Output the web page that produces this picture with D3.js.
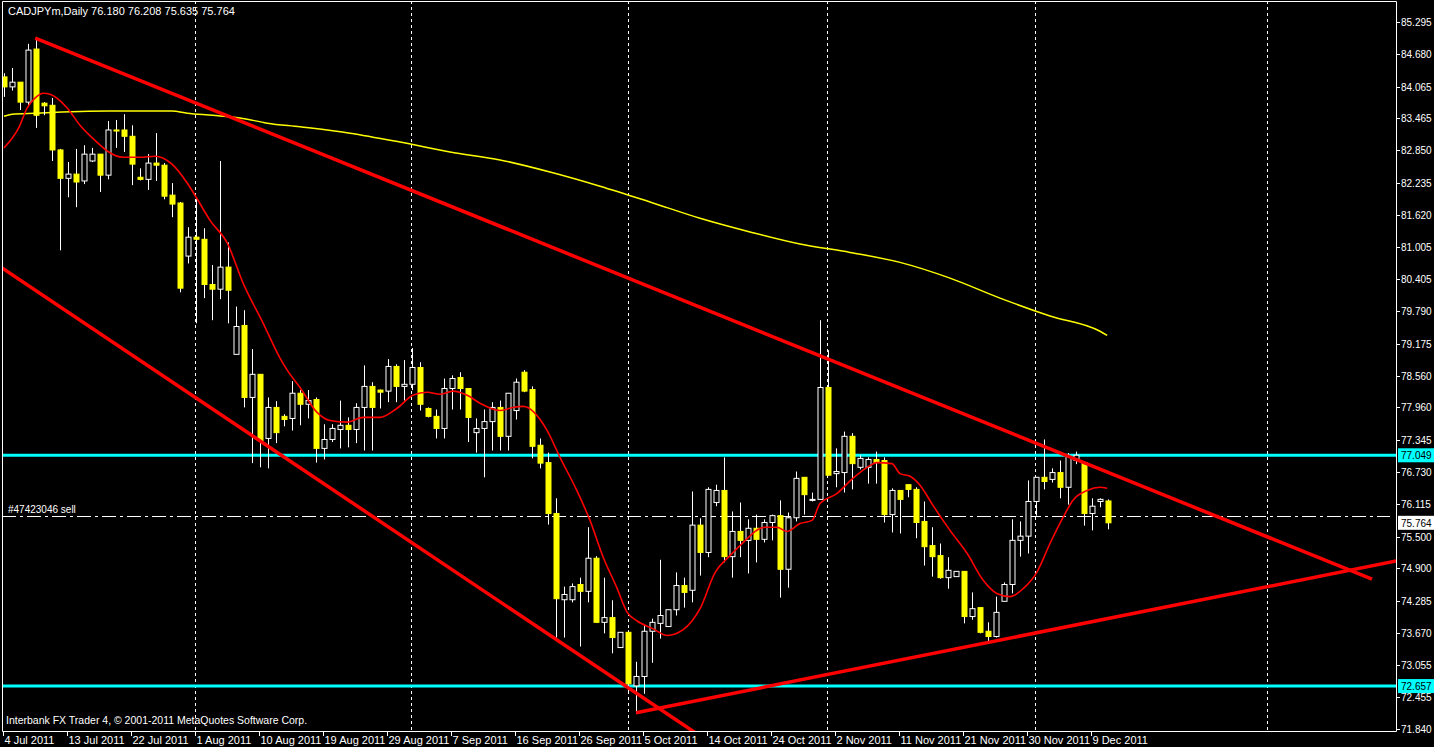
<!DOCTYPE html>
<html>
<head>
<meta charset="utf-8">
<script src="https://cdn.jsdelivr.net/npm/d3@7"></script>
<style>
  html, body { margin: 0; padding: 0; background: #000; overflow: hidden; }
  text { font-family: "Liberation Sans", Arial, sans-serif; font-size: 11px; fill: #fff; }
</style>
</head>
<body>
<div id="chart"></div>
<script>
// daily candles, bar index 0 = 4 Jul 2011
const opens = [84.25,84.06,84.15,83.77,84.78,83.75,83.71,82.86,82.32,82.40,82.27,82.65,82.78,82.38,83.24,83.24,83.12,82.34,82.30,82.61,
  82.57,82.00,81.85,80.84,81.20,81.16,80.30,80.21,80.63,78.97,79.52,78.15,78.59,77.37,77.96,77.79,77.75,78.23,78.02,78.11,
  77.18,77.35,77.54,77.62,77.54,77.96,78.36,78.29,78.27,78.74,78.36,78.40,78.72,77.94,77.79,77.56,78.32,78.53,78.32,77.48,
  77.56,77.69,77.96,77.41,77.90,78.63,78.30,77.24,76.91,75.94,74.30,74.30,74.59,74.46,75.09,73.87,73.96,73.39,73.68,72.66,
  72.84,73.70,73.85,73.79,74.11,74.57,74.48,75.72,75.20,76.15,76.38,75.12,75.60,75.43,75.66,75.45,75.77,75.90,74.88,75.86,
  76.63,76.19,76.21,78.34,76.70,76.72,77.41,76.82,76.82,76.97,76.95,75.92,76.38,76.49,76.40,75.79,75.33,75.14,74.72,74.74,
  74.84,73.98,74.15,73.70,73.60,74.27,74.59,75.43,75.51,76.17,76.63,76.59,76.72,76.44,76.95,76.91,75.94,76.17,76.18];
const highs = [84.32,84.42,84.15,84.88,85.01,83.77,83.85,82.88,82.63,82.88,82.95,82.90,82.78,83.41,83.43,83.54,83.33,82.51,82.78,83.18,
  82.61,82.23,81.87,81.39,81.94,81.37,80.67,82.65,81.10,79.88,79.81,79.07,78.59,78.15,78.08,77.83,78.46,78.29,78.29,78.15,
  77.64,77.64,78.09,77.77,78.04,78.76,78.44,78.30,78.88,78.78,78.86,79.09,78.82,77.96,77.92,78.51,78.57,78.63,78.32,77.75,
  77.92,78.06,78.09,78.23,78.51,78.67,78.36,77.37,77.10,76.23,74.55,74.61,74.72,75.68,75.13,74.72,74.29,73.68,73.72,73.12,
  73.81,73.94,75.06,74.11,74.82,74.72,76.36,75.85,76.44,76.49,77.01,75.98,76.15,75.83,75.92,75.83,75.92,76.19,75.96,76.74,
  76.63,76.34,79.62,79.05,77.18,77.50,77.47,77.05,77.01,77.12,77.01,76.42,76.38,76.49,76.44,76.17,75.68,75.37,75.11,74.84,
  74.84,74.44,74.15,73.87,74.36,74.63,75.83,75.79,76.57,76.63,77.35,76.80,76.95,77.09,77.12,76.91,76.23,76.23,76.21];
const lows = [83.87,83.99,83.62,83.68,83.28,83.52,82.65,80.95,81.96,81.77,82.21,82.63,82.06,82.30,82.90,82.82,82.19,82.28,82.10,82.27,
  81.92,81.58,80.15,80.70,79.56,80.04,79.62,80.02,79.56,78.97,77.96,76.90,76.82,76.80,77.28,77.60,77.52,77.62,77.75,76.91,
  76.97,77.30,77.18,77.20,77.28,77.14,77.14,77.94,78.06,78.06,78.09,78.29,77.90,77.77,77.37,77.37,77.92,77.92,77.30,77.10,
  76.63,77.14,77.14,77.14,77.73,78.25,76.99,76.80,75.73,73.58,73.58,74.25,73.41,74.25,73.87,73.66,73.28,73.39,72.51,72.13,
  72.51,73.10,73.56,73.79,74.00,74.15,74.25,74.76,75.11,76.08,75.01,74.72,75.11,74.80,75.01,75.39,75.43,74.34,74.53,75.79,
  75.92,76.17,76.21,76.67,76.44,76.34,76.40,76.78,76.51,76.51,75.77,75.58,75.56,76.25,75.47,74.95,74.74,74.70,74.51,74.74,
  73.85,73.92,73.66,73.47,73.58,74.27,74.42,75.12,75.18,75.90,76.40,76.53,76.23,76.11,76.88,75.71,75.62,76.06,75.64];
const closes = [84.06,84.15,83.77,84.76,83.52,83.70,82.86,82.32,82.40,82.25,82.78,82.78,82.38,83.24,83.22,83.12,82.59,82.30,82.61,82.57,
  81.98,81.83,80.23,81.20,81.16,80.30,80.21,80.63,80.19,79.50,78.15,78.59,77.33,77.96,77.48,77.73,78.23,78.02,78.09,77.18,
  77.35,77.56,77.62,77.54,77.96,78.36,77.96,78.25,78.74,78.36,78.40,78.72,78.02,77.79,77.56,78.32,78.51,78.32,77.77,77.56,
  77.69,77.96,77.41,78.23,78.44,78.27,77.22,76.90,75.94,74.32,74.40,74.55,74.46,75.09,73.87,73.96,73.58,73.68,72.70,72.84,
  73.70,73.87,74.00,74.11,74.57,74.44,75.72,75.20,76.40,76.38,75.12,75.60,75.43,75.66,75.45,75.77,75.90,74.88,75.86,76.61,
  76.30,76.21,78.34,76.67,76.74,77.41,76.89,76.99,76.97,76.91,75.92,76.38,76.21,76.40,75.77,75.31,75.12,74.72,74.86,74.84,
  73.98,74.13,73.68,73.60,74.06,74.59,75.43,75.51,76.17,76.63,76.55,76.72,76.44,77.03,77.05,75.94,76.08,76.21,75.764];

// red short moving average: [bar index, price]
const fastMA = [[0,82.90],[1.9,83.30],[2.9,83.66],[3.9,83.85],[4.9,83.94],[5.75,83.92],[7.9,83.66],[9.5,83.33],[11.6,83.01],
  [12.9,82.84],[14.9,82.72],[17,82.72],[18.9,82.74],[21,82.59],[22.9,82.23],[24.1,81.94],[25.75,81.52],[27.9,81.09],
  [29.9,80.32],[32.4,79.56],[34.5,78.90],[35.4,78.67],[37,78.34],[39.1,77.87],[40.75,77.71],[42.9,77.68],[44.9,77.77],
  [47,77.77],[49.1,77.94],[51.1,78.19],[52.9,78.25],[54.5,78.21],[56.1,78.27],[57.9,78.19],[59.5,78.04],[62,77.90],
  [63.6,77.96],[64.9,77.98],[67.9,77.52],[69.5,77.01],[71.6,76.38],[73.25,75.81],[74.9,75.11],[76.6,74.53],[77.9,74.06],
  [79.1,73.90],[81.1,73.75],[82.9,73.62],[84.9,73.73],[87,74.13],[88.9,74.82],[90.75,75.14],[92,75.33],[95.1,75.68],
  [96.6,75.68],[97.9,75.60],[99.5,75.75],[101,75.81],[102,76.13],[104.1,76.32],[106.1,76.61],[107.9,76.82],[109.1,76.91],
  [111,76.89],[112,76.70],[113.25,76.65],[114.5,76.48],[116.1,76.10],[118.25,75.62],[120.4,75.18],[122.4,74.67],
  [124.1,74.42],[125.75,74.36],[127.4,74.51],[129.1,74.82],[130.75,75.37],[132.4,75.87],[133.6,76.19],[135.4,76.38],
  [137,76.44],[137.9,76.42]];

// yellow long moving average
const slowMA = [[0,83.50],[1,83.54],[3.9,83.56],[13,83.60],[21,83.60],[22.9,83.56],[26.1,83.52],[29.5,83.47],[32.9,83.37],
  [37,83.30],[43.25,83.18],[49.5,83.01],[55.75,82.82],[62,82.67],[68.25,82.44],[74.5,82.17],[80.75,81.87],[87,81.56],
  [93.25,81.30],[99.5,81.07],[105.75,80.91],[112,80.72],[118.25,80.42],[124.5,80.04],[130.75,79.70],[137,79.41],[137.9,79.33]];

// hand-drawn trend lines: [[idx, price], [idx, price]]
const trendLines = [
  [[3.9,84.99],[171,74.69]],
  [[-0.2,80.61],[86.6,71.75]],
  [[79,72.15],[178.75,75.18]]
];
const levels = [77.049, 72.657];
const orderPrice = 75.89;
const lastPrice = 75.764;

const priceTicks = [85.295,84.680,84.065,83.465,82.850,82.235,81.620,81.005,80.405,79.790,79.175,78.560,77.960,77.345,
  76.730,76.115,75.500,74.900,74.285,73.670,73.055,72.455,71.840];
const dateLabels = ['4 Jul 2011','13 Jul 2011','22 Jul 2011','1 Aug 2011','10 Aug 2011','19 Aug 2011','29 Aug 2011',
  '7 Sep 2011','16 Sep 2011','26 Sep 2011','5 Oct 2011','14 Oct 2011','24 Oct 2011','2 Nov 2011','11 Nov 2011',
  '21 Nov 2011','30 Nov 2011','9 Dec 2011'];
const gridBars = [23.9, 50.9, 78, 102.9, 128.9, 157.9];

const W = 1434, H = 747;
const plotR = 1396, plotB = 731;

const x = d3.scaleLinear().domain([0, 1]).range([4, 12]);
const y = d3.scaleLinear().domain([85.295, 71.840]).range([22, 729]);

const svg = d3.select('#chart').append('svg')
  .attr('width', W).attr('height', H)
  .style('background', '#000');

svg.append('defs').append('clipPath').attr('id', 'plot')
  .append('rect').attr('x', 2).attr('y', 1).attr('width', plotR - 2).attr('height', plotB - 1);

const plot = svg.append('g').attr('clip-path', 'url(#plot)');

// grid
plot.selectAll('.vgrid').data(gridBars).enter().append('line')
  .attr('x1', d => Math.round(x(d)) + 0.5).attr('x2', d => Math.round(x(d)) + 0.5)
  .attr('y1', 1).attr('y2', plotB)
  .attr('stroke', '#fff').attr('stroke-dasharray', '3,3');

// long MA
const line = d3.line().x(d => x(d[0])).y(d => y(d[1])).curve(d3.curveMonotoneX);
plot.append('path').datum(slowMA).attr('d', line)
  .attr('fill', 'none').attr('stroke', '#ffff00').attr('stroke-width', 1.5);

// horizontal levels
plot.selectAll('.lvl').data(levels).enter().append('line')
  .attr('x1', 2).attr('x2', plotR).attr('y1', d => y(d)).attr('y2', d => y(d))
  .attr('stroke', '#00ffff').attr('stroke-width', 3);

// order line
plot.append('line')
  .attr('x1', 2).attr('x2', 1390).attr('y1', Math.round(y(orderPrice)) + 0.5).attr('y2', Math.round(y(orderPrice)) + 0.5)
  .attr('stroke', '#fff').attr('stroke-dasharray', '14,4,3,4');
svg.append('text').attr('x', 8).attr('y', Math.round(y(orderPrice)) - 3)
  .style('font-size', '10px').text('#47423046 sell');

// candles
const idx = d3.range(closes.length);
const bw = 5;
plot.selectAll('.wick').data(idx).enter().append('line')
  .attr('x1', i => Math.round(x(i)) + 0.5).attr('x2', i => Math.round(x(i)) + 0.5)
  .attr('y1', i => y(highs[i])).attr('y2', i => y(lows[i]))
  .attr('stroke', '#fff');
plot.selectAll('.body').data(idx).enter().append('rect')
  .attr('x', i => Math.round(x(i)) - 2)
  .attr('y', i => y(Math.max(opens[i], closes[i])))
  .attr('width', bw)
  .attr('height', i => Math.max(1, Math.abs(y(opens[i]) - y(closes[i]))))
  .attr('fill', i => closes[i] < opens[i] ? '#ffff00' : '#000')
  .attr('stroke', i => closes[i] < opens[i] ? '#ffff00' : '#fff');

// short MA
plot.append('path').datum(fastMA).attr('d', line)
  .attr('fill', 'none').attr('stroke', '#ff0000').attr('stroke-width', 1.6);

// trend lines
plot.selectAll('.trend').data(trendLines).enter().append('line')
  .attr('x1', d => x(d[0][0])).attr('y1', d => y(d[0][1]))
  .attr('x2', d => x(d[1][0])).attr('y2', d => y(d[1][1]))
  .attr('stroke', '#ff0000').attr('stroke-width', 3.5);

// frame
svg.append('path')
  .attr('d', `M2.5,${plotB + 0.5}V1.5H${plotR + 0.5}V${plotB + 0.5}H2.5`)
  .attr('fill', 'none').attr('stroke', '#fff');

// price axis
const ax = svg.append('g').style('font-size', '10px');
ax.selectAll('.pt').data(priceTicks).enter().append('line')
  .attr('x1', plotR).attr('x2', plotR + 4)
  .attr('y1', d => Math.round(y(d)) + 0.5).attr('y2', d => Math.round(y(d)) + 0.5)
  .attr('stroke', '#fff');
ax.selectAll('.pl').data(priceTicks).enter().append('text')
  .attr('x', 1401).attr('y', d => y(d) + 4).style('font-size', '10px').text(d => d.toFixed(3));

// level / price badges
const badges = levels.map(v => ({ v, bg: '#00ffff' })).concat([{ v: lastPrice, bg: '#fff' }]);
const bg = ax.selectAll('.badge').data(badges).enter().append('g');
bg.append('rect').attr('x', 1398).attr('y', d => y(d.v) - 7).attr('width', 36).attr('height', 14)
  .attr('fill', d => d.bg);
bg.append('text').attr('x', 1401).attr('y', d => y(d.v) + 4).style('fill', '#000').style('font-size', '10px')
  .text(d => d.v.toFixed(3));

// time axis
dateLabels.forEach((d, k) => {
  const xx = Math.round(x(k * 8) - 1) + 0.5;
  svg.append('line').attr('x1', xx).attr('x2', xx).attr('y1', plotB).attr('y2', plotB + 5).attr('stroke', '#fff');
  svg.append('text').attr('x', xx + 1).attr('y', 744).text(d);
});

svg.append('text').attr('x', 8).attr('y', 15).text('CADJPYm,Daily  76.180 76.208 75.635 75.764');
svg.append('text').attr('x', 6).attr('y', 724).style('font-size', '10.5px')
  .text('Interbank FX Trader 4, © 2001-2011 MetaQuotes Software Corp.');
</script>
</body>
</html>
